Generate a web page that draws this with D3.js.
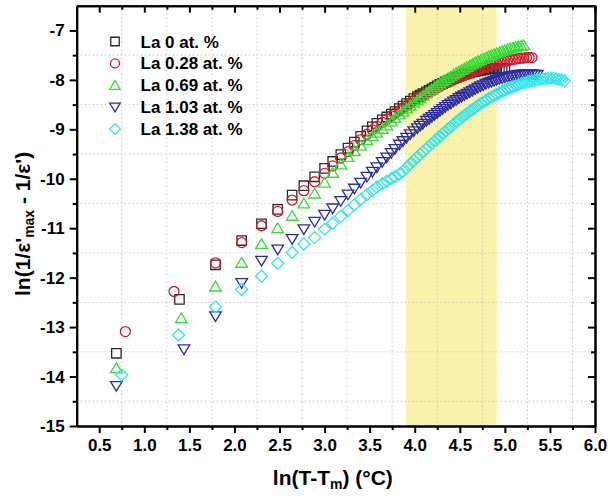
<!DOCTYPE html>
<html><head><meta charset="utf-8">
<script src="https://cdn.jsdelivr.net/npm/d3@7/dist/d3.min.js"></script>
<style>
body{margin:0;background:#fff}
text{font-family:"Liberation Sans",Arial,sans-serif;font-weight:bold;fill:#000}
</style>
</head><body>
<svg id="c" width="608" height="497"></svg>
<script>
// ---------- data ----------
const seriesNames = ["La 0 at. %", "La 0.28 at. %", "La 0.69 at. %", "La 1.03 at. %", "La 1.38 at. %"];
const seriesColors = ["#2a2a2a", "#d4182c", "#33dd33", "#2b2ba8", "#33e4ea"];
const seriesSymbols = ["square", "circle", "triangleUp", "triangleDown", "diamond"];

// shared ln(T-Tm) positions of the measured points
const xGrid = [0.69,1.39,1.79,2.08,2.30,2.48,2.64,2.77,2.89,3.00,3.09,3.18,3.26,3.33,3.40,3.47,3.53,3.58,3.64,3.69,
  3.74,3.78,3.83,3.87,3.91,3.95,3.99,4.03,4.06,4.09,4.13,4.16,4.19,4.22,4.25,4.28,4.31,4.34,4.37,4.40,
  4.43,4.46,4.49,4.52,4.55,4.58,4.61,4.64,4.67,4.70,4.73,4.76,4.79,4.82,4.85,4.88,4.91,4.94,4.97,5.00,
  5.03,5.06,5.09,5.12,5.15,5.18,5.21,5.24,5.27,5.30,5.33,5.36,5.39,5.42,5.45,5.48,5.51,5.54,5.57,5.60,5.63,5.66];

// first two x positions of each series (they differ slightly)
const xFirst0 = [0.69, 1.39];
const xFirst1 = [0.79, 1.33];
const xFirst2 = [0.69, 1.41];
const xFirst3 = [0.69, 1.44];
const xFirst4 = [0.75, 1.38];

const y0 = [-13.53,-12.44,-11.74,-11.25,-10.91,-10.62,-10.33,-10.14,-9.96,-9.79,-9.65,-9.51,-9.38,-9.26,-9.14,-9.03,-8.95,-8.88,-8.81,-8.75,
  -8.69,-8.64,-8.58,-8.53,-8.48,-8.43,-8.38,-8.34,-8.31,-8.28,-8.24,-8.21,-8.18,-8.15,-8.12,-8.09,-8.07,-8.04,-8.02,-7.99,
  -7.97,-7.95,-7.93,-7.91,-7.89,-7.87,-7.86,-7.84,-7.83,-7.82,-7.81,-7.80,-7.79,-7.78,-7.78,-7.77,-7.77,-7.77,-7.77,-7.77];
const y1 = [-13.09,-12.28,-11.70,-11.29,-10.95,-10.66,-10.43,-10.24,-10.06,-9.89,-9.74,-9.58,-9.45,-9.33,-9.21,-9.10,-9.01,-8.94,-8.86,-8.79,
  -8.73,-8.68,-8.62,-8.57,-8.52,-8.47,-8.42,-8.38,-8.35,-8.32,-8.28,-8.25,-8.22,-8.19,-8.16,-8.13,-8.10,-8.07,-8.05,-8.02,
  -8.00,-7.97,-7.95,-7.93,-7.90,-7.88,-7.86,-7.84,-7.82,-7.80,-7.78,-7.76,-7.74,-7.72,-7.70,-7.68,-7.67,-7.65,-7.64,-7.62,
  -7.61,-7.60,-7.59,-7.58,-7.57,-7.56,-7.56,-7.55,-7.55,-7.55];
const y2 = [-13.83,-12.82,-12.18,-11.70,-11.32,-11.00,-10.75,-10.50,-10.30,-10.08,-9.88,-9.71,-9.56,-9.44,-9.33,-9.22,-9.14,-9.07,-8.99,-8.92,
  -8.84,-8.77,-8.70,-8.64,-8.58,-8.52,-8.46,-8.41,-8.37,-8.32,-8.27,-8.23,-8.19,-8.15,-8.11,-8.07,-8.03,-8.00,-7.96,-7.93,
  -7.89,-7.86,-7.83,-7.80,-7.77,-7.74,-7.71,-7.68,-7.65,-7.62,-7.60,-7.57,-7.55,-7.52,-7.50,-7.48,-7.46,-7.44,-7.42,-7.40,
  -7.38,-7.36,-7.35,-7.33,-7.32,-7.31,-7.30];
const y3 = [-14.19,-13.45,-12.78,-12.11,-11.66,-11.43,-11.22,-11.02,-10.87,-10.73,-10.60,-10.45,-10.32,-10.20,-10.08,-9.96,-9.86,-9.77,-9.66,-9.57,
  -9.48,-9.40,-9.31,-9.24,-9.17,-9.10,-9.04,-8.98,-8.93,-8.89,-8.83,-8.79,-8.75,-8.71,-8.67,-8.63,-8.59,-8.55,-8.51,-8.48,
  -8.44,-8.41,-8.37,-8.34,-8.31,-8.28,-8.25,-8.22,-8.19,-8.16,-8.13,-8.11,-8.08,-8.06,-8.04,-8.02,-8.00,-7.98,-7.97,-7.95,
  -7.94,-7.93,-7.92,-7.91,-7.90,-7.90,-7.89,-7.89,-7.89,-7.89,-7.90,-7.90];
const y4 = [-13.97,-13.16,-12.59,-12.24,-11.97,-11.71,-11.49,-11.32,-11.19,-11.02,-10.90,-10.76,-10.64,-10.53,-10.42,-10.32,-10.24,-10.17,-10.10,-10.05,
  -10.00,-9.96,-9.91,-9.85,-9.77,-9.70,-9.63,-9.56,-9.51,-9.46,-9.39,-9.34,-9.29,-9.24,-9.19,-9.14,-9.09,-9.04,-8.99,-8.95,
  -8.90,-8.85,-8.81,-8.76,-8.72,-8.68,-8.64,-8.60,-8.56,-8.52,-8.48,-8.45,-8.41,-8.38,-8.35,-8.32,-8.29,-8.26,-8.23,-8.21,
  -8.18,-8.16,-8.14,-8.12,-8.10,-8.08,-8.06,-8.05,-8.03,-8.02,-8.01,-8.00,-7.99,-7.98,-7.98,-7.97,-7.97,-7.97,-7.98,-7.99,-8.00,-8.02];

const xTicks = [0.5,1.0,1.5,2.0,2.5,3.0,3.5,4.0,4.5,5.0,5.5,6.0];
const yTicks = [-15,-14,-13,-12,-11,-10,-9,-8,-7];
const xMinor = [0.25,0.75,1.25,1.75,2.25,2.75,3.25,3.75,4.25,4.75,5.25,5.75];
const yMinor = [-14.5,-13.5,-12.5,-11.5,-10.5,-9.5,-8.5,-7.5,-6.5];
const band = [3.9, 4.91];
const xDomain = [0.25, 6.0];
const yDomain = [-15, -6.5];

// ---------- chart ----------
const svg = d3.select("#c");
const L = 76.7, R = 595, T = 5.7, B = 426;
const x = d3.scaleLinear().domain(xDomain).range([L, R]);
const y = d3.scaleLinear().domain(yDomain).range([B, T]);

svg.append("rect").attr("width",608).attr("height",497).attr("fill","#fff");

// highlighted band
svg.append("rect")
  .attr("x", x(band[0])).attr("y", T)
  .attr("width", x(band[1]) - x(band[0])).attr("height", B - T)
  .attr("fill", "#fbf2ae");

// dotted grid at minor positions
const grid = svg.append("g").attr("stroke","#c8c8c8").attr("stroke-width",1).attr("stroke-dasharray","1.5,2.5");
xMinor.filter(v => v > xDomain[0] && v < xDomain[1]).forEach(v => {
  grid.append("line").attr("x1", x(v)).attr("x2", x(v)).attr("y1", T).attr("y2", B);
});
yMinor.filter(v => v > yDomain[0] && v < yDomain[1]).forEach(v => {
  grid.append("line").attr("x1", L).attr("x2", R).attr("y1", y(v)).attr("y2", y(v));
});

// marker paths
function markerPath(type, s) {
  switch (type) {
    case "square": { const h = s*0.47; return `M${-h},${-h}H${h}V${h}H${-h}Z`; }
    case "circle": { const r = s*0.5; return `M${r},0A${r},${r} 0 1,1 ${-r},0A${r},${r} 0 1,1 ${r},0Z`; }
    case "triangleUp": { const w = s*0.58, h = s*0.52; return `M0,${-h}L${w},${h*0.85}L${-w},${h*0.85}Z`; }
    case "triangleDown": { const w = s*0.58, h = s*0.52; return `M0,${h}L${w},${-h*0.85}L${-w},${-h*0.85}Z`; }
    case "diamond": { const h = s*0.6; return `M0,${-h}L${h},0L0,${h}L${-h},0Z`; }
  }
}

const xFirsts = [xFirst0, xFirst1, xFirst2, xFirst3, xFirst4];
const ys = [y0, y1, y2, y3, y4];
const series = seriesNames.map((name, i) => {
  const xs = xFirsts[i].concat(xGrid.slice(2));
  return { name, color: seriesColors[i], symbol: seriesSymbols[i],
    points: ys[i].map((v, j) => ({ x: xs[j], y: v })) };
});

const clipId = "plotclip";
svg.append("clipPath").attr("id", clipId).append("rect")
  .attr("x", L).attr("y", T).attr("width", R - L).attr("height", B - T);

const plot = svg.append("g").attr("clip-path", `url(#${clipId})`);
series.forEach(s => {
  plot.append("g").selectAll("path").data(s.points).join("path")
    .attr("transform", d => `translate(${x(d.x)},${y(d.y)})`)
    .attr("d", markerPath(s.symbol, 10))
    .attr("fill", "none")
    .attr("stroke", s.color)
    .attr("stroke-width", 1.3);
});

// axes
const axStyle = g => {
  g.select(".domain").attr("stroke","#000").attr("stroke-width",2);
  g.selectAll(".tick line").attr("stroke","#000").attr("stroke-width",2);
  g.selectAll("text").attr("font-size",17).attr("font-weight","bold")
    .attr("font-family",'"Liberation Sans",Arial,sans-serif').attr("fill","#000");
};
svg.append("g").attr("transform",`translate(0,${B})`)
  .call(d3.axisBottom(x).tickValues(xTicks).tickFormat(d3.format(".1f")).tickSize(7).tickSizeOuter(0).tickPadding(6))
  .call(axStyle);
svg.append("g").attr("transform",`translate(0,${B})`)
  .call(d3.axisBottom(x).tickValues(xMinor.filter(v=>v>xDomain[0])).tickFormat("").tickSize(4).tickSizeOuter(0))
  .call(axStyle);
svg.append("g").attr("transform",`translate(${L},0)`)
  .call(d3.axisLeft(y).tickValues(yTicks).tickFormat(d => String(d)).tickSize(7).tickSizeOuter(0).tickPadding(5))
  .call(axStyle);
svg.append("g").attr("transform",`translate(${L},0)`)
  .call(d3.axisLeft(y).tickValues(yMinor.filter(v=>v<yDomain[1])).tickFormat("").tickSize(4).tickSizeOuter(0))
  .call(axStyle);
// top & right (ticks inward)
svg.append("g").attr("transform",`translate(0,${T})`)
  .call(d3.axisBottom(x).tickValues(xTicks).tickFormat("").tickSize(7).tickSizeOuter(0))
  .call(axStyle);
svg.append("g").attr("transform",`translate(0,${T})`)
  .call(d3.axisBottom(x).tickValues(xMinor.filter(v=>v>xDomain[0])).tickFormat("").tickSize(4).tickSizeOuter(0))
  .call(axStyle);
svg.append("g").attr("transform",`translate(${R},0)`)
  .call(d3.axisLeft(y).tickValues(yTicks).tickFormat("").tickSize(7).tickSizeOuter(0))
  .call(axStyle);
svg.append("g").attr("transform",`translate(${R},0)`)
  .call(d3.axisLeft(y).tickValues(yMinor.filter(v=>v<yDomain[1])).tickFormat("").tickSize(4).tickSizeOuter(0))
  .call(axStyle);

// axis titles
const xt = svg.append("text").attr("x", (L+R)/2 - 3).attr("y", 485).attr("text-anchor","middle").attr("font-size",21);
xt.append("tspan").text("ln(T-T");
xt.append("tspan").attr("font-size",14).attr("dy",4).text("m");
xt.append("tspan").attr("dy",-4).text(") (°C)");

const yt = svg.append("text").attr("transform",`translate(30,${(T+B)/2 + 8}) rotate(-90)`)
  .attr("text-anchor","middle").attr("font-size",21);
yt.append("tspan").text("ln(1/ε'");
yt.append("tspan").attr("font-size",14).attr("dy",4).text("max");
yt.append("tspan").attr("dy",-4).text(" - 1/ε')");

// legend
const leg = svg.append("g");
series.forEach((s, i) => {
  const cy = 41.5 + i * 21.9;
  leg.append("path").attr("transform",`translate(115,${cy})`)
    .attr("d", markerPath(s.symbol, 9)).attr("fill","none").attr("stroke",s.color).attr("stroke-width",1.3);
  leg.append("text").attr("x",140.5).attr("y",cy+6).attr("font-size",17).text(s.name);
});
</script>
</body></html>
